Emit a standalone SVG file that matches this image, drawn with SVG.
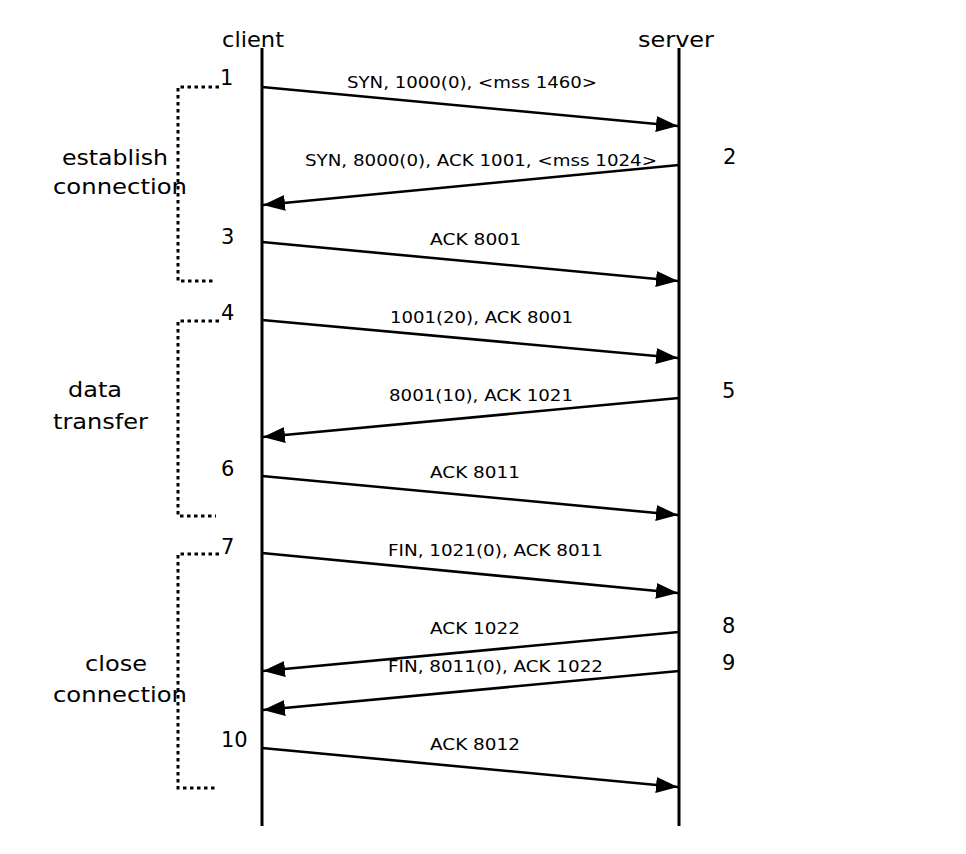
<svg xmlns="http://www.w3.org/2000/svg" width="966" height="854" viewBox="0 0 966 854">
<style>
text{font-family:"DejaVu Sans","Liberation Sans",sans-serif;fill:#000}
.big{font-size:21px}
.msg{font-size:16px}
.life{stroke:#000;stroke-width:3;fill:none}
.arr{stroke:#000;stroke-width:2.6;fill:none;marker-end:url(#ah)}
.br{stroke:#000;stroke-width:3;fill:none;stroke-dasharray:3.5 3.5}
</style>
<defs>
<marker id="ah" markerUnits="userSpaceOnUse" markerWidth="24" markerHeight="20" viewBox="0 0 24 20" refX="22" refY="10" orient="auto">
<path d="M0,2 L22,10 L0,18 Z" fill="#000"/>
</marker>
</defs>
<rect width="966" height="854" fill="#fff"/>
<g id="client">
<text class="big" x="222" y="47" textLength="62" lengthAdjust="spacingAndGlyphs">client</text>
<line class="life" x1="262" y1="48" x2="262" y2="826"/>
</g>
<g id="server">
<text class="big" x="638" y="47" textLength="76" lengthAdjust="spacingAndGlyphs">server</text>
<line class="life" x1="679" y1="48" x2="679" y2="826"/>
</g>
<g id="phase-establish">
<path class="br" d="M219,87 H178 V281 H216"/>
<text class="big" x="62" y="165" textLength="106" lengthAdjust="spacingAndGlyphs">establish</text>
<text class="big" x="53" y="194" textLength="134" lengthAdjust="spacingAndGlyphs">connection</text>
</g>
<g id="phase-data">
<path class="br" d="M219,321 H178 V516 H216"/>
<text class="big" x="68" y="397" textLength="54" lengthAdjust="spacingAndGlyphs">data</text>
<text class="big" x="53" y="429" textLength="95" lengthAdjust="spacingAndGlyphs">transfer</text>
</g>
<g id="phase-close">
<path class="br" d="M219,554 H178 V788 H216"/>
<text class="big" x="85" y="671" textLength="62" lengthAdjust="spacingAndGlyphs">close</text>
<text class="big" x="53" y="702" textLength="134" lengthAdjust="spacingAndGlyphs">connection</text>
</g>
<g id="numbers" class="big">
<text class="big" x="220" y="85">1</text>
<text class="big" x="723" y="164">2</text>
<text class="big" x="221" y="244">3</text>
<text class="big" x="221" y="320">4</text>
<text class="big" x="722" y="398">5</text>
<text class="big" x="221" y="476">6</text>
<text class="big" x="221" y="554">7</text>
<text class="big" x="722" y="633">8</text>
<text class="big" x="722" y="670">9</text>
<text class="big" x="221" y="747">10</text>
</g>
<g id="connectors">
<line class="arr" x1="262" y1="87" x2="678" y2="126"/>
<line class="arr" x1="679" y1="165" x2="263" y2="205"/>
<line class="arr" x1="262" y1="242" x2="678" y2="281"/>
<line class="arr" x1="262" y1="320" x2="678" y2="358"/>
<line class="arr" x1="679" y1="398" x2="263" y2="437"/>
<line class="arr" x1="262" y1="476" x2="678" y2="515"/>
<line class="arr" x1="262" y1="553" x2="678" y2="593"/>
<line class="arr" x1="679" y1="632" x2="263" y2="671"/>
<line class="arr" x1="679" y1="671" x2="263" y2="710"/>
<line class="arr" x1="262" y1="748" x2="678" y2="787"/>
</g>
<g id="labels">
<text class="msg" x="347" y="88" textLength="250" lengthAdjust="spacingAndGlyphs">SYN, 1000(0), &lt;mss 1460&gt;</text>
<text class="msg" x="305" y="166" textLength="352" lengthAdjust="spacingAndGlyphs">SYN, 8000(0), ACK 1001, &lt;mss 1024&gt;</text>
<text class="msg" x="430" y="245" textLength="91" lengthAdjust="spacingAndGlyphs">ACK 8001</text>
<text class="msg" x="390" y="323" textLength="183" lengthAdjust="spacingAndGlyphs">1001(20), ACK 8001</text>
<text class="msg" x="389" y="401" textLength="184" lengthAdjust="spacingAndGlyphs">8001(10), ACK 1021</text>
<text class="msg" x="430" y="478" textLength="90" lengthAdjust="spacingAndGlyphs">ACK 8011</text>
<text class="msg" x="388" y="556" textLength="215" lengthAdjust="spacingAndGlyphs">FIN, 1021(0), ACK 8011</text>
<text class="msg" x="430" y="634" textLength="90" lengthAdjust="spacingAndGlyphs">ACK 1022</text>
<text class="msg" x="388" y="672" textLength="215" lengthAdjust="spacingAndGlyphs">FIN, 8011(0), ACK 1022</text>
<text class="msg" x="430" y="750" textLength="90" lengthAdjust="spacingAndGlyphs">ACK 8012</text>
</g>
</svg>
